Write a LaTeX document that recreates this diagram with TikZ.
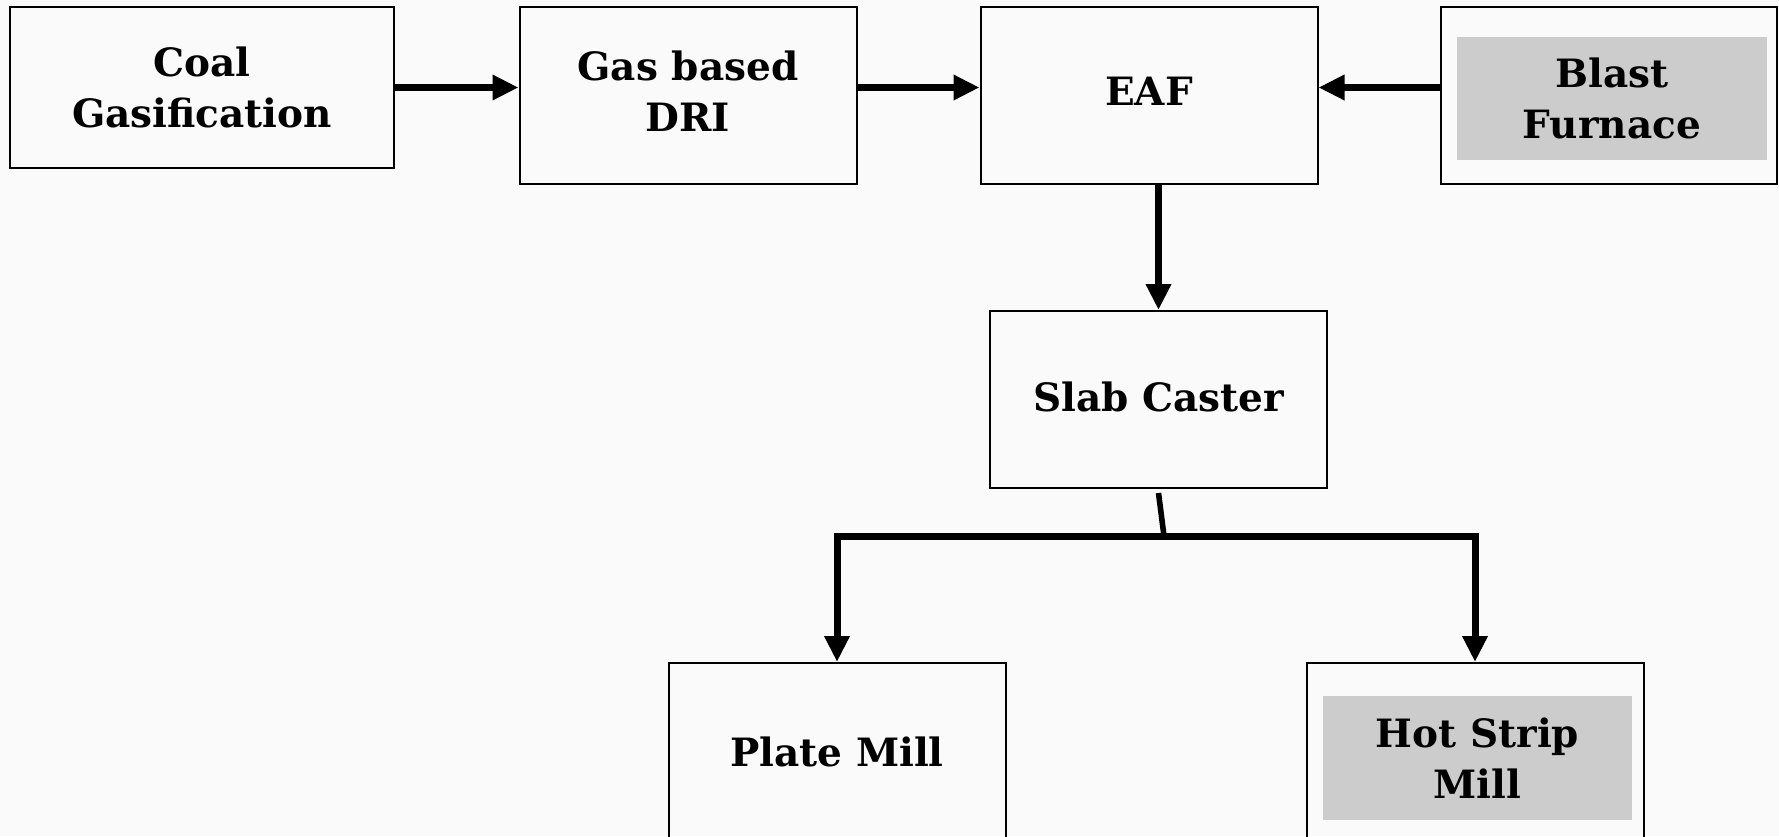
\documentclass[tikz,border=0pt]{standalone}
\usepackage{fontspec}
\setmainfont{DejaVu Serif}
\usetikzlibrary{arrows.meta}
\definecolor{bgcol}{RGB}{250,250,250}
\definecolor{grayfill}{RGB}{204,204,204}
\begin{document}
\begin{tikzpicture}[x=0.5pt,y=-0.5pt,
  lbl/.style={align=center, font=\bfseries\fontsize{19.5}{25.5}\selectfont},
  box/.style={lbl, draw=black, line width=1pt, minimum width=168.5pt, minimum height=88.5pt, inner sep=0pt},
  graybox/.style={lbl, fill=grayfill, draw=none, inner sep=0pt},
  arr/.style={line width=3.8pt, -{Triangle[length=13pt,width=12pt]}},
  bar/.style={line width=3.5pt}]
\fill[bgcol] (0,0) rectangle (1779,836);
\useasboundingbox (0,0) rectangle (1779,836);
% top row
\node[box, minimum width=192pt, minimum height=80.5pt] (coal) at (202,87.5) {Coal\\Gasification};
\node[box, text depth=4pt] (dri) at (688,95.5) {Gas based\\DRI};
\node[box, text depth=4pt] (eaf) at (1149,95.5) {EAF};
\node[box, minimum width=168pt] (bf) at (1608.5,95.5) {};
\node[graybox, minimum width=155pt, minimum height=61.5pt] (bfin) at (1612,98.5) {Blast\\Furnace};
% middle
\node[box, text depth=3pt] (slab) at (1158.5,399.5) {Slab Caster};
% bottom row
\node[box] (plate) at (837,751.5) {Plate Mill};
\node[box] (hot) at (1475,751.5) {};
\node[graybox, minimum width=154.5pt, minimum height=62pt] (hotin) at (1477.5,758) {Hot Strip\\Mill};
% connectors
\draw[arr] (coal.east) -- (dri.west |- coal.east);
\draw[arr] (dri.east |- coal.east) -- (eaf.west |- coal.east);
\draw[arr] (bf.west |- coal.east) -- (eaf.east |- coal.east);
\draw[arr, line width=3.5pt] (eaf.south -| slab.north) -- (slab.north);
\coordinate (j) at (1164,536);
\draw[line width=2.8pt] ([yshift=-2pt]slab.south) -- (j);
\draw[bar, {Triangle[length=13pt,width=12pt]}-{Triangle[length=13pt,width=12pt]}]
  (plate.north) -- (plate.north |- j) -- (hot.north |- j) -- (hot.north);
\end{tikzpicture}
\end{document}
